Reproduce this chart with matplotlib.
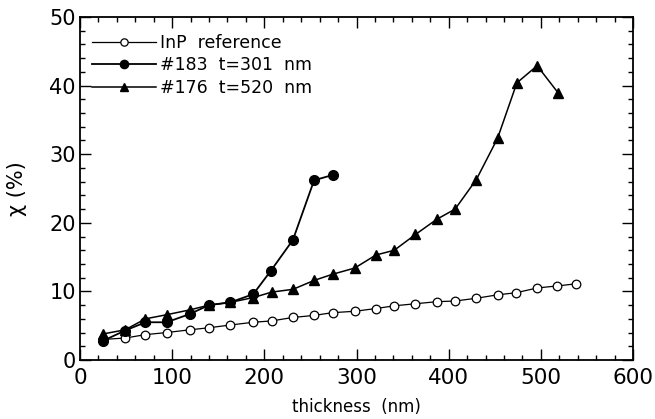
import matplotlib
matplotlib.use("Agg")
import matplotlib.pyplot as plt
from matplotlib.ticker import MultipleLocator

plt.rcParams['font.family'] = ['DejaVu Sans']

# InP reference (open circles)
x_inp = [25, 49, 71, 94, 119, 140, 163, 188, 208, 231, 254, 274, 298, 321, 341, 364, 387, 407, 430, 453, 473, 496, 518, 538]
y_inp = [3.0, 3.2, 3.7, 4.0, 4.4, 4.7, 5.1, 5.5, 5.7, 6.2, 6.5, 6.9, 7.1, 7.5, 7.9, 8.2, 8.5, 8.6, 9.0, 9.5, 9.8, 10.5, 10.8, 11.1]

# #183 t=301 nm (filled circles)
x_183 = [25, 49, 71, 94, 119, 140, 163, 188, 207, 231, 254, 275]
y_183 = [2.8, 4.3, 5.5, 5.5, 6.7, 8.0, 8.4, 9.6, 13.0, 17.5, 26.2, 27.0]

# #176 t=520 nm (filled triangles)
x_176 = [25, 49, 71, 94, 119, 140, 163, 188, 208, 231, 254, 274, 298, 321, 341, 364, 387, 407, 430, 453, 474, 496, 519]
y_176 = [3.8, 4.4, 6.0, 6.6, 7.3, 8.0, 8.4, 9.1, 9.9, 10.3, 11.6, 12.5, 13.4, 15.3, 16.0, 18.3, 20.5, 22.0, 26.3, 32.3, 40.4, 42.9, 38.9]

labels = ["InP  reference", "#183  t=301  nm", "#176  t=520  nm"]

fig = plt.figure(figsize=(6.55, 4.19), dpi=100)
ax = fig.add_axes([80/655, 1-360/419, 553/655, 343/419])

ax.plot(x_inp, y_inp, '-', color='black', lw=0.9, marker='o', ms=6.2,
        mfc='white', mec='black', mew=0.9, label=labels[0])
ax.plot(x_183, y_183, '-', color='black', lw=1.3, marker='o', ms=7,
        mfc='black', mec='black', label=labels[1])
ax.plot(x_176, y_176, '-', color='black', lw=1.1, marker='^', ms=7.5,
        mfc='black', mec='black', label=labels[2])

ax.set_xlim(0, 600)
ax.set_ylim(0, 50)
ax.xaxis.set_major_locator(MultipleLocator(100))
ax.xaxis.set_minor_locator(MultipleLocator(20))
ax.yaxis.set_major_locator(MultipleLocator(10))
ax.yaxis.set_minor_locator(MultipleLocator(2))
ax.tick_params(which='both', direction='in', top=True, right=True, width=1.0)
ax.tick_params(which='major', length=8)
ax.tick_params(which='minor', length=3.5)
ax.tick_params(axis='x', labelsize=15.5, pad=6)
ax.tick_params(axis='y', labelsize=15, pad=3)
for s in ax.spines.values():
    s.set_linewidth(1.3)

ax.set_xlabel("thickness  (nm)", fontsize=12, labelpad=7)
ax.set_ylabel("χ (%)", fontsize=15, labelpad=16)

leg = ax.legend(loc='upper left', bbox_to_anchor=(0.022, 0.95), frameon=False,
                fontsize=12.5, handlelength=3.7, handletextpad=0.2,
                labelspacing=0.25, borderaxespad=0, borderpad=0, markerscale=0.85)

fig.savefig("out.png", dpi=100)
